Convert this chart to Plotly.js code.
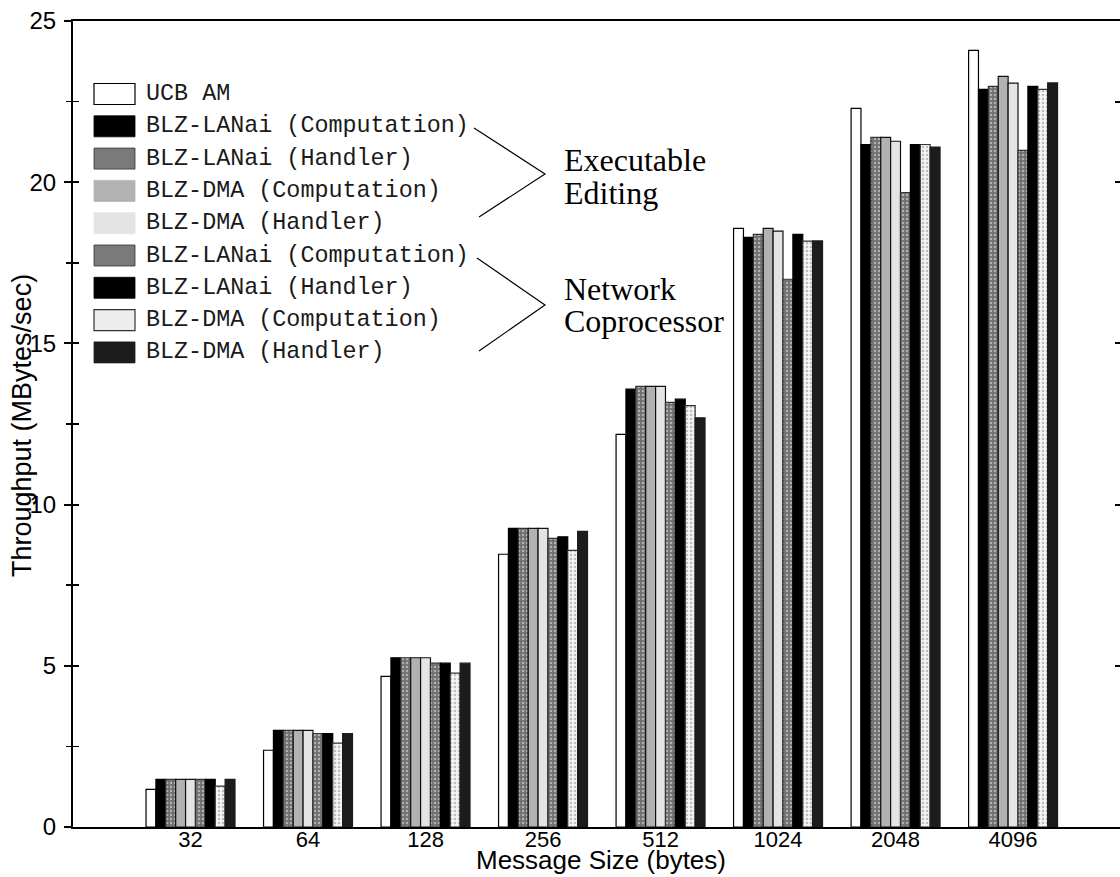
<!DOCTYPE html>
<html>
<head>
<meta charset="utf-8">
<script src="https://cdn.plot.ly/plotly-3.0.1.min.js"></script>
<style>html,body{margin:0;padding:0;background:#fff;}#chart{width:1120px;height:877px;}</style>
</head>
<body>
<div id="chart"></div>
<script>
// ---- data ----
const messageSizes = ['32','64','128','256','512','1024','2048','4096'];
const seriesNames = ['UCB AM','BLZ-LANai (Computation)','BLZ-LANai (Handler)','BLZ-DMA (Computation)','BLZ-DMA (Handler)','BLZ-LANai (Computation)','BLZ-LANai (Handler)','BLZ-DMA (Computation)','BLZ-DMA (Handler)'];
const ucbAM            = [1.17, 2.38, 4.67, 8.46, 12.18, 18.57, 22.29, 24.09];
const eeLanaiComp      = [1.48, 3.00, 5.25, 9.26, 13.58, 18.29, 21.17, 22.88];
const eeLanaiHandler   = [1.48, 3.00, 5.25, 9.26, 13.67, 18.38, 21.39, 22.97];
const eeDmaComp        = [1.48, 3.00, 5.25, 9.26, 13.67, 18.57, 21.39, 23.28];
const eeDmaHandler     = [1.48, 3.00, 5.25, 9.26, 13.67, 18.48, 21.27, 23.07];
const ncLanaiComp      = [1.48, 2.90, 5.08, 8.95, 13.17, 16.99, 19.68, 20.99];
const ncLanaiHandler   = [1.48, 2.90, 5.08, 9.00, 13.27, 18.38, 21.17, 22.97];
const ncDmaComp        = [1.27, 2.60, 4.77, 8.58, 13.07, 18.17, 21.17, 22.88];
const ncDmaHandler     = [1.48, 2.90, 5.08, 9.17, 12.69, 18.18, 21.09, 23.08];
const groupLabels = ['Executable', 'Editing', 'Network', 'Coprocessor'];
const yTicks = [0, 5, 10, 15, 20, 25];
const yMinorTicks = [2.5, 7.5, 12.5, 17.5, 22.5];
const yTitle = 'Throughput (MBytes/sec)';
const xTitle = 'Message Size (bytes)';

const allSeries = [ucbAM, eeLanaiComp, eeLanaiHandler, eeDmaComp, eeDmaHandler, ncLanaiComp, ncLanaiHandler, ncDmaComp, ncDmaHandler];

// ---- styles ----
const darkPat = {shape: '.', bgcolor: '#707070', fgcolor: '#b0b0b0', size: 4, solidity: 0.3, fillmode: 'replace'};
const lightPat = {shape: '.', bgcolor: '#f4f4f4', fgcolor: '#bdbdbd', size: 4, solidity: 0.3, fillmode: 'replace'};
const styles = [
  {color: '#ffffff', line: '#000000'},
  {color: '#000000', line: '#000000'},
  {color: '#707070', line: '#333333', pattern: darkPat, swatch: '#7a7a7a'},
  {color: '#b2b2b2', line: '#111111', swatchLine: null},
  {color: '#e4e4e4', line: '#111111', swatchLine: null},
  {color: '#707070', line: '#333333', pattern: darkPat, swatch: '#7a7a7a'},
  {color: '#000000', line: '#000000'},
  {color: '#f4f4f4', line: '#333333', pattern: lightPat, swatch: '#ededed'},
  {color: '#1c1c1c', line: '#1c1c1c'}
];

const traces = allSeries.map((vals, i) => {
  const st = styles[i];
  const marker = {color: st.color, line: {color: st.line, width: 1.2}};
  if (st.pattern) marker.pattern = st.pattern;
  return {type: 'bar', x: messageSizes, y: vals, name: seriesNames[i], marker: marker, showlegend: false, hoverinfo: 'x+y+name'};
});
// invisible helpers so the overlaying tick-only axes are drawn
traces.push({type: 'scatter', x: [], y: [], yaxis: 'y2', showlegend: false, hoverinfo: 'skip'});
traces.push({type: 'scatter', x: [], y: [], yaxis: 'y3', showlegend: false, hoverinfo: 'skip'});

// ---- pixel helpers for layout decorations ----
const L = 73, R = 1120, T = 21, B = 827;
const px = x => (x - L) / (R - L);
const py = y => (B - y) / (B - T);

const shapes = [];
const annotations = [];
const rowY = [94, 126.3, 158.6, 190.9, 223.2, 255.5, 287.8, 320.1, 352.4];
seriesNames.forEach((nm, i) => {
  const st = styles[i];
  const fill = st.swatch || st.color;
  let lineColor = st.line;
  if (st.swatchLine === null) lineColor = fill;
  shapes.push({type: 'rect', xref: 'paper', yref: 'paper', x0: px(94), x1: px(135), y0: py(rowY[i] + 10.5), y1: py(rowY[i] - 10.5),
    fillcolor: fill, line: {color: lineColor, width: (i === 0 || i === 7) ? 1.2 : 0.8}, layer: 'above'});
  annotations.push({xref: 'paper', yref: 'paper', x: px(144), y: py(rowY[i]), xanchor: 'left', yanchor: 'middle', showarrow: false,
    text: nm, font: {family: 'Liberation Mono, Courier New, monospace', size: 23.4, color: '#1a1a1a'}});
});
// braces
const brace = (pts) => ({type: 'path', xref: 'paper', yref: 'paper', line: {color: '#000', width: 1.2},
  path: 'M' + pts.map(p => px(p[0]).toFixed(5) + ',' + py(p[1]).toFixed(5)).join(' L')});
shapes.push(brace([[474, 128], [545, 174], [479, 217]]));
shapes.push(brace([[477, 258], [545, 305], [479, 351]]));
const serif = {family: 'Liberation Serif, Times New Roman, serif', size: 32, color: '#000'};
[[groupLabels[0], 160], [groupLabels[1], 193], [groupLabels[2], 289], [groupLabels[3], 321]].forEach(([t, y]) => {
  annotations.push({xref: 'paper', yref: 'paper', x: px(562), y: py(y), xanchor: 'left', yanchor: 'middle', showarrow: false, text: t, font: serif});
});
// axis titles
annotations.push({xref: 'paper', yref: 'paper', x: px(22), y: py(426), xanchor: 'center', yanchor: 'middle', textangle: -90, showarrow: false,
  text: yTitle, font: {family: 'Liberation Sans, Arial, sans-serif', size: 27, color: '#000'}});
annotations.push({xref: 'paper', yref: 'paper', x: px(601), y: py(877), xanchor: 'center', yanchor: 'bottom', showarrow: false,
  text: xTitle, font: {family: 'Liberation Sans, Arial, sans-serif', size: 26, color: '#000'}});

const layout = {
  width: 1120, height: 877,
  margin: {l: L, r: 1120 - R, t: T, b: 877 - B},
  paper_bgcolor: '#fff', plot_bgcolor: '#fff',
  barmode: 'group', bargap: 0.243, bargroupgap: 0,
  showlegend: false,
  xaxis: {type: 'category', range: [-1, 7.91], showline: true, linecolor: '#000', linewidth: 2, mirror: true,
    ticks: '', showgrid: false, zeroline: false, ticklabelstandoff: -8,
    tickfont: {family: 'Liberation Sans, Arial, sans-serif', size: 22, color: '#000'}},
  yaxis: {range: [0, 25], tickvals: yTicks, ticks: 'outside', ticklen: 7, tickwidth: 2, tickcolor: '#000',
    minor: {tickvals: yMinorTicks, ticks: 'outside', ticklen: 5, tickwidth: 1.5, tickcolor: '#000'},
    ticklabelstandoff: 3,
    showline: true, linecolor: '#000', linewidth: 2, showgrid: false, zeroline: false,
    tickfont: {family: 'Liberation Sans, Arial, sans-serif', size: 24, color: '#000'}},
  yaxis2: {overlaying: 'y', side: 'left', range: [0, 25], tickvals: yTicks, ticks: 'inside', ticklen: 6, tickwidth: 2, tickcolor: '#000',
    minor: {tickvals: yMinorTicks, ticks: 'inside', ticklen: 6, tickwidth: 1.5, tickcolor: '#000'},
    showticklabels: false, showline: false, showgrid: false, zeroline: false},
  yaxis3: {overlaying: 'y', side: 'right', range: [0, 25], tickvals: yTicks.slice(1, 5).concat([yMinorTicks[4]]), ticks: 'inside', ticklen: 5, tickwidth: 2, tickcolor: '#000',
    showticklabels: false, showline: false, showgrid: false, zeroline: false},
  shapes: shapes,
  annotations: annotations
};

Plotly.newPlot('chart', traces, layout, {displayModeBar: false, staticPlot: true});
</script>
</body>
</html>
